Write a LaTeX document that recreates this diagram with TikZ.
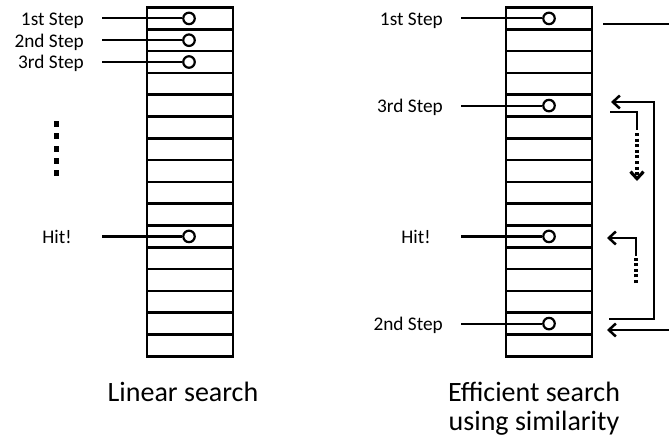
\documentclass[tikz,border=0pt]{standalone}
\usepackage{fontspec}
\setmainfont{Carlito}
\usetikzlibrary{arrows.meta}

\tikzset{
  cellrule/.style={line width=2.7pt},
  probe/.style={circle, draw, line width=2.2pt, fill=white, minimum size=11.5pt, inner sep=0pt},
  steplabel/.style={font=\fontsize{19.3}{22}\selectfont, inner sep=0pt, anchor=base east},
  hitlabel/.style={font=\fontsize{19.3}{22}\selectfont, inner sep=0pt, anchor=base},
  lead/.style={line width=2.2pt},
  flow/.style={line width=2.5pt},
  tip/.style={-{Straight Barb[length=7pt,width=13pt]}},
  dotseg/.style={line width=3.2pt, dash pattern=on 3pt off 2.6pt},
  caption/.style={font=\fontsize{28}{32}\selectfont, inner sep=0pt, anchor=base}
}

\begin{document}
\begin{tikzpicture}[x=1pt, y=-1pt]
  \useasboundingbox (0,0) rectangle (669,444);

  % two columns of 16 cells each
  \foreach \xl/\xr in {147/233, 506/592}{
    \draw[cellrule] (\xl,7.5) rectangle (\xr,356.3);
    \foreach \i in {1,...,15}
      \draw[cellrule] (\xl,{7.5+\i*21.8}) -- (\xr,{7.5+\i*21.8});
  }

  % ---- linear search ----
  \node[steplabel] (l1) at (84,25.4) {1st Step};
  \node[steplabel] (l2) at (84,47.2) {2nd Step};
  \node[steplabel] (l3) at (84,69.0) {3rd Step};
  \node[hitlabel]  (lh) at (57,243.4) {Hit!};

  \coordinate (l1s) at (102,18.4);
  \coordinate (l2s) at (102,40.2);
  \coordinate (l3s) at (102,62.0);
  \coordinate (lhs) at (102,236.4);

  \node[probe] (p1) at (189,18.4) {};
  \node[probe] (p2) at (189,40.2) {};
  \node[probe] (p3) at (189,62.0) {};
  \node[probe] (ph) at (189,236.4) {};

  \draw[lead] (l1s) -- (p1);
  \draw[lead] (l2s) -- (p2);
  \draw[lead] (l3s) -- (p3);
  \draw[lead] (lhs) -- (ph);

  % vertical ellipsis
  \foreach \y in {124,136,149,161,173}
    \fill (53.5,{\y-2.7}) rectangle ++(5.4,5.4);

  \node[caption] (cap1) at (183,401) {Linear search};

  % ---- efficient search ----
  \node[steplabel] (r1) at (443,25.4) {1st Step};
  \node[steplabel] (r3) at (443,112.6) {3rd Step};
  \node[hitlabel]  (rh) at (416,243.4) {Hit!};
  \node[steplabel] (r2) at (443,330.6) {2nd Step};

  \coordinate (r1s) at (461,18.4);
  \coordinate (r3s) at (461,105.6);
  \coordinate (rhs) at (461,236.4);
  \coordinate (r2s) at (461,323.6);

  \node[probe] (q1) at (549,18.4) {};
  \node[probe] (q3) at (549,105.6) {};
  \node[probe] (qh) at (549,236.4) {};
  \node[probe] (q2) at (549,323.6) {};

  \draw[lead] (r1s) -- (q1);
  \draw[lead] (r3s) -- (q3);
  \draw[lead] (rhs) -- (qh);
  \draw[lead] (r2s) -- (q2);

  % jump from the 1st step to the 2nd step
  \coordinate (jout) at (603,24);
  \coordinate (jedge) at (669,24);
  \coordinate (jback) at (669,330);
  \coordinate (jtip) at (607,330);
  \draw[flow] (jout) -- (jedge);
  \draw[flow,tip] (jback) -- (jtip);

  % jump from the 2nd step up to the 3rd step
  \coordinate (ks) at (609,319);
  \coordinate (kc) at (654,102);
  \coordinate (kt) at (611,102);
  \draw[flow,tip] (ks) -| (kc) -- (kt);

  % scan downward from the 3rd step
  \coordinate (ds) at (610,112);
  \coordinate (dk) at (637,130);
  \coordinate (dd) at (637,133);
  \coordinate (de) at (637,181);
  \draw[flow] (ds) -| (dk);
  \draw[flow,dotseg,tip] (dd) -- (de);

  % scan upward to the hit
  \coordinate (hs) at (636,283);
  \coordinate (hk) at (636,256);
  \coordinate (ht) at (607,238);
  \draw[flow,dotseg] (hs) -- (hk);
  \draw[flow,tip] (hk) |- (ht);

  \node[caption] (cap2) at (534,401) {Efficient search};
  \node[caption] (cap3) at (534,430) {using similarity};
\end{tikzpicture}
\end{document}
